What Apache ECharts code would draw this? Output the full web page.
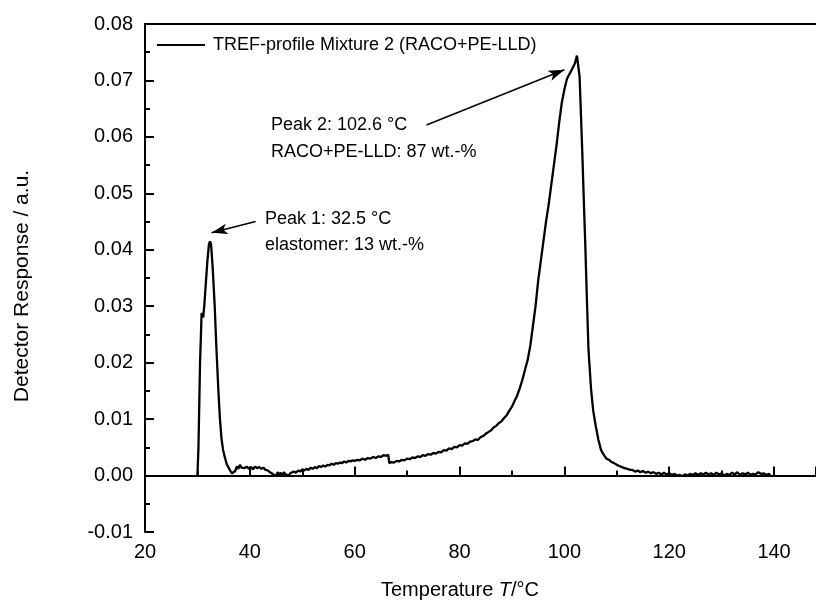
<!DOCTYPE html>
<html>
<head>
<meta charset="utf-8">
<script src="https://cdn.jsdelivr.net/npm/echarts@6/dist/echarts.min.js"></script>
<style>html,body{margin:0;padding:0;background:#fff}#c{width:816px;height:608px}</style>
</head>
<body>
<div id="c"></div>
<script>
const seriesName = 'TREF-profile Mixture 2 (RACO+PE-LLD)';
const temperature = [
30.0,30.2,30.5,30.8,31.0,31.1,31.3,31.6,31.9,32.2,32.4,32.6,32.9,33.3,33.6,34.0,34.3,34.6,34.9,35.3,35.6,35.9,36.3,36.6,36.9,37.2,37.5,37.8,
38.1,38.4,38.7,39.0,39.4,39.8,40.2,40.6,41.0,41.4,41.8,42.2,42.6,43.0,43.4,43.8,44.2,44.6,45.0,45.3,45.6,45.9,46.2,46.5,46.8,47.1,47.4,47.7,
48.0,48.4,48.8,49.2,49.6,50.0,50.4,50.8,51.2,51.6,52.0,52.4,52.8,53.2,53.6,54.0,54.4,54.8,55.2,55.6,56.0,56.4,56.8,57.2,57.6,58.0,58.4,58.8,
59.2,59.6,60.0,60.5,61.0,61.5,62.0,62.5,63.0,63.5,64.0,64.5,65.0,65.5,66.0,66.4,66.6,67.0,67.5,68.0,68.5,69.0,69.5,70.0,70.5,71.0,71.5,72.0,
72.5,73.0,73.5,74.0,74.5,75.0,75.5,76.0,76.5,77.0,77.5,78.0,78.5,79.0,79.5,80.0,80.5,81.0,81.5,82.0,82.5,83.0,83.5,84.0,84.5,85.0,85.5,86.0,
86.5,87.0,87.5,88.0,88.5,89.0,89.5,90.0,90.5,91.0,91.5,92.0,92.5,93.0,93.5,94.0,94.5,95.0,95.5,96.0,96.5,97.0,97.5,98.0,98.5,99.0,99.5,100.0,
100.5,101.0,101.4,101.7,102.0,102.4,102.6,102.9,103.2,103.4,103.7,104.0,104.3,104.6,105.1,105.5,106.0,106.5,107.0,107.5,108.0,108.5,109.0,
109.5,110.0,110.5,111.0,111.5,112.0,112.5,113.0,113.5,114.0,114.5,115.0,115.5,116.0,116.5,117.0,117.5,118.0,118.5,119.0,119.5,120.0,120.5,
121.0,121.5,122.0,122.5,123.0,123.5,124.0,124.5,125.0,125.5,126.0,126.5,127.0,127.5,128.0,128.5,129.0,129.5,130.0,130.5,131.0,131.5,132.0,
132.5,133.0,133.5,134.0,134.5,135.0,135.5,136.0,136.5,137.0,137.5,138.0,138.5,139.0,139.3
];
const response = [
0.0000,0.0050,0.0200,0.0288,0.0290,0.0280,0.0300,0.0340,0.0380,0.0410,0.0415,0.0410,0.0370,0.0300,0.0230,0.0150,0.0100,0.0065,0.0045,0.0030,0.0020,0.0015,0.0008,0.0004,0.0003,0.0008,0.0016,0.0012,
0.0019,0.0014,0.0017,0.0013,0.0016,0.0012,0.0015,0.0011,0.0016,0.0013,0.0015,0.0012,0.0014,0.0010,0.0009,0.0006,0.0004,0.0001,0.0000,0.0006,0.0001,0.0005,0.0000,0.0006,0.0002,0.0005,0.0000,0.0004,
0.0003,0.0007,0.0005,0.0009,0.0007,0.0011,0.0009,0.0012,0.0010,0.0014,0.0012,0.0015,0.0013,0.0017,0.0015,0.0018,0.0016,0.0019,0.0018,0.0021,0.0019,0.0022,0.0021,0.0023,0.0022,0.0025,0.0023,0.0026,
0.0025,0.0027,0.0026,0.0028,0.0027,0.0030,0.0028,0.0031,0.0030,0.0033,0.0031,0.0034,0.0033,0.0036,0.0035,0.0037,0.0022,0.0024,0.0023,0.0026,0.0025,0.0028,0.0027,0.0030,0.0029,0.0032,0.0031,0.0034,
0.0033,0.0036,0.0035,0.0038,0.0037,0.0040,0.0039,0.0042,0.0041,0.0045,0.0044,0.0048,0.0047,0.0051,0.0050,0.0054,0.0053,0.0057,0.0056,0.0060,0.0061,0.0064,0.0063,0.0068,0.0070,0.0074,0.0077,0.0080,
0.0085,0.0088,0.0093,0.0096,0.0102,0.0107,0.0115,0.0122,0.0132,0.0142,0.0155,0.0170,0.0188,0.0205,0.0230,0.0265,0.0300,0.0345,0.0380,0.0415,0.0450,0.0480,0.0515,0.0550,0.0585,0.0625,0.0660,0.0684,
0.0703,0.0712,0.0719,0.0722,0.0730,0.0744,0.0741,0.0707,0.0630,0.0577,0.0490,0.0406,0.0311,0.0223,0.0152,0.0115,0.0087,0.0063,0.0045,0.0037,0.0030,0.0028,0.0024,
0.0022,0.0019,0.0017,0.0015,0.0013,0.0012,0.0010,0.0010,0.0007,0.0009,0.0006,0.0008,0.0005,0.0007,0.0004,0.0006,0.0003,0.0005,0.0002,0.0005,0.0002,0.0004,0.0001,
0.0003,0.0000,0.0001,-0.0001,0.0002,0.0000,0.0003,0.0001,0.0004,0.0001,0.0004,0.0002,0.0005,0.0002,0.0004,0.0001,0.0005,0.0002,0.0004,0.0000,0.0003,0.0001,0.0005,
0.0002,0.0006,0.0001,0.0004,0.0002,0.0005,0.0001,0.0003,0.0002,0.0006,0.0003,0.0004,0.0001,0.0003,0.0000
];
const xTicks = [20, 40, 60, 80, 100, 120, 140];
const yTicks = [-0.01, 0.00, 0.01, 0.02, 0.03, 0.04, 0.05, 0.06, 0.07, 0.08];
// annotation arrows: [tail, tip] in data coordinates
const arrowPeak1 = [[41.1, 0.0450], [32.7, 0.0430]];
const arrowPeak2 = [[73.7, 0.0621], [100.0, 0.0719]];
const notePeak1 = ['Peak 1: 32.5 °C', 'elastomer: 13 wt.-%'];
const notePeak2 = ['Peak 2: 102.6 °C', 'RACO+PE-LLD: 87 wt.-%'];

const FONT = '"Liberation Sans", Arial, sans-serif';
const data = temperature.map((t, i) => [t, response[i]]);
const axisCommon = {
  axisLine: { lineStyle: { color: '#000', width: 2 } },
  axisTick: { inside: true, length: 9, lineStyle: { color: '#000', width: 2 } },
  minorTick: { show: true, splitNumber: 2, length: 5, lineStyle: { color: '#000', width: 2 } },
  splitLine: { show: false }
};
const chart = echarts.init(document.getElementById('c'));
chart.setOption({
  animation: false,
  backgroundColor: '#fff',
  grid: { left: 145, top: 24, bottom: 76, right: -1, containLabel: false },
  xAxis: [
    Object.assign({
      type: 'value', min: xTicks[0], max: 148, interval: 20, position: 'bottom',
      axisLabel: { color: '#000', fontSize: 20, fontFamily: FONT, margin: 10, showMaxLabel: false,
        formatter: v => (xTicks.indexOf(v) >= 0 ? String(v) : '') }
    }, axisCommon),
    { type: 'value', min: xTicks[0], max: 148, position: 'top', axisLine: { show: true, onZero: false, lineStyle: { color: '#000', width: 2 } },
      axisTick: { show: false }, axisLabel: { show: false }, splitLine: { show: false } }
  ],
  yAxis: Object.assign({
    type: 'value', min: yTicks[0], max: yTicks[yTicks.length - 1], interval: 0.01,
    axisLabel: { color: '#000', fontSize: 20, fontFamily: FONT, margin: 12, formatter: v => v.toFixed(2) }
  }, axisCommon),
  legend: {
    data: [{ name: seriesName, icon: 'rect' }], left: 157, top: 36, padding: 0, itemWidth: 48, itemHeight: 2, itemGap: 8,
    itemStyle: { color: '#000' },
    textStyle: { color: '#000', fontSize: 18, fontFamily: FONT, padding: [0, 0, 0, 3] }
  },
  series: [{
    name: seriesName, type: 'line', data: data, symbol: 'none', showSymbol: false,
    lineStyle: { color: '#000', width: 2.3 }, itemStyle: { color: '#000' },
    markLine: {
      silent: true, animation: false,
      label: { show: false },
      lineStyle: { color: '#000', type: 'solid', width: 1.5 },
      symbol: ['none', 'none'],
      data: [
        { yAxis: 0, symbol: 'none', lineStyle: { width: 2, color: '#000', type: 'solid' } },
        [{ coord: arrowPeak1[0], symbol: 'none' }, { coord: arrowPeak1[1], symbol: 'arrow', symbolSize: [8, 16] }],
        [{ coord: arrowPeak2[0], symbol: 'none' }, { coord: arrowPeak2[1], symbol: 'arrow', symbolSize: [8, 16] }]
      ]
    }
  }],
  graphic: [
    { type: 'text', x: 271, y: 125, style: { text: notePeak2[0], font: '18px ' + FONT, fill: '#000', verticalAlign: 'middle' } },
    { type: 'text', x: 271, y: 152, style: { text: notePeak2[1], font: '18px ' + FONT, fill: '#000', verticalAlign: 'middle' } },
    { type: 'text', x: 265, y: 219, style: { text: notePeak1[0], font: '18px ' + FONT, fill: '#000', verticalAlign: 'middle' } },
    { type: 'text', x: 265, y: 245, style: { text: notePeak1[1], font: '18px ' + FONT, fill: '#000', verticalAlign: 'middle' } },
    { type: 'text', x: 22, y: 286, rotation: Math.PI / 2,
      style: { text: 'Detector Response / a.u.', font: '21px ' + FONT, fill: '#000', align: 'center', verticalAlign: 'middle' } },
    { type: 'text', x: 460, y: 590,
      style: { text: 'Temperature {i|T}/°C', font: '20px ' + FONT, fill: '#000', align: 'center', verticalAlign: 'middle',
        rich: { i: { fontStyle: 'italic', fontSize: 20, fontFamily: FONT, fill: '#000' } } } }
  ]
});
</script>
</body>
</html>
